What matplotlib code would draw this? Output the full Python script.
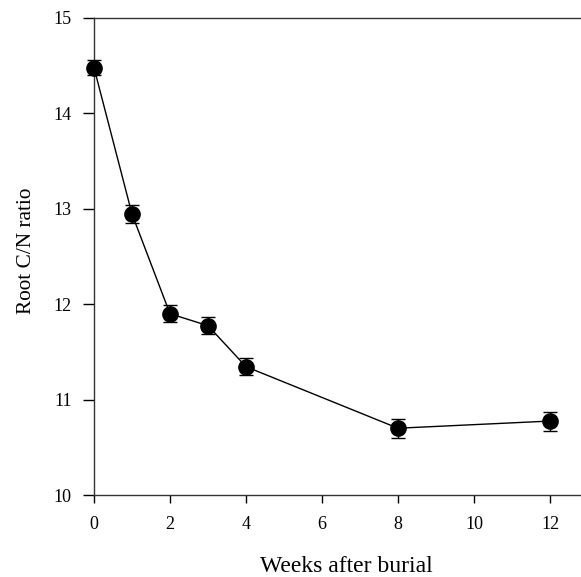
import matplotlib
matplotlib.use('Agg')
import matplotlib.pyplot as plt

weeks = [0, 1, 2, 3, 4, 8, 12]
cn_ratio = [14.48, 12.945, 11.90, 11.775, 11.345, 10.70, 10.775]
cn_err = [0.08, 0.09, 0.09, 0.09, 0.09, 0.10, 0.10]

plt.rcParams['font.family'] = ['Liberation Serif', 'DejaVu Serif']

fig = plt.figure(figsize=(5.81, 5.77), dpi=100)
ax = fig.add_axes([94 / 581, 1 - 495 / 577, (588 - 94) / 581, (495 - 18) / 577])

ax.errorbar(weeks, cn_ratio, yerr=cn_err, fmt='-o', color='black', lw=1,
            ms=11, capsize=5, elinewidth=1, capthick=1, clip_on=False, zorder=5)

ax.set_xlim(0, 13)
ax.set_ylim(10, 15)
ax.set_xticks([0, 2, 4, 6, 8, 10, 12])
ax.set_yticks([10, 11, 12, 13, 14, 15])
ax.tick_params(direction='out', length=8, width=1, labelsize=13, pad=8)
ax.tick_params(axis='x', length=6, pad=9)
for s in ax.spines.values():
    s.set_linewidth(1)
    s.set_color('#333333')

ax.set_xlabel('Weeks after burial', fontsize=17)
ax.set_ylabel('Root C/N ratio', fontsize=15.3)
ax.xaxis.set_label_coords(0.51, -0.128)
ax.yaxis.set_label_coords(-0.117, 0.5115)

fig.savefig('out.png', dpi=100)
